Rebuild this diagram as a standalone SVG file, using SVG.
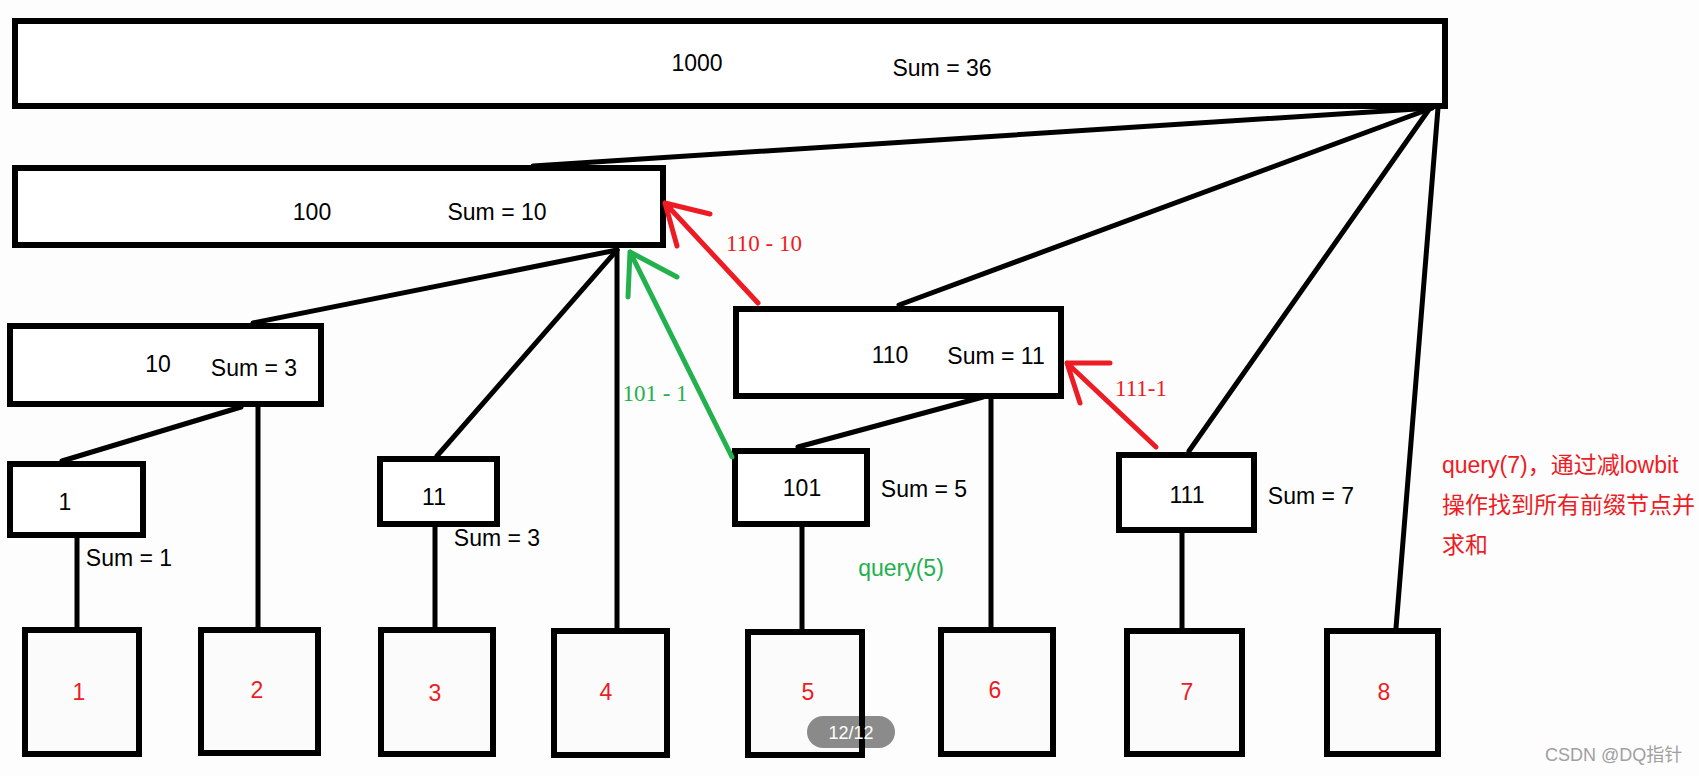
<svg xmlns="http://www.w3.org/2000/svg" width="1699" height="776" viewBox="0 0 1699 776">
<style>
.box{fill:#fff;stroke:#000;stroke-width:6}
.leaf{fill:#fbfbfb;stroke:#000;stroke-width:6}
.ln{stroke:#000;stroke-width:5;fill:none;stroke-linecap:round}
.red{stroke:#ed1c24;stroke-width:5;fill:none;stroke-linecap:round;stroke-linejoin:round}
.grn{stroke:#22b14c;stroke-width:5;fill:none;stroke-linecap:round;stroke-linejoin:round}
.t{font-family:"Liberation Sans",Arial,sans-serif;font-size:23px;fill:#000;text-anchor:middle}
.n{font-family:"Liberation Sans",Arial,sans-serif;font-size:23px;fill:#ed1c24;text-anchor:middle}
.sr{font-family:"Liberation Serif","Times New Roman",serif;font-size:23px;text-anchor:middle}
.cn{font-family:"Liberation Sans","Noto Sans CJK SC",sans-serif;font-size:23px;fill:#ed1c24}
</style>
<rect width="1699" height="776" fill="#fdfdfd"/>
<g id="connectors">
<line class="ln" x1="533" y1="166" x2="1432" y2="108"/>
<line class="ln" x1="1432" y1="108" x2="899" y2="305"/>
<line class="ln" x1="1430" y1="108" x2="1189" y2="451"/>
<line class="ln" x1="1438" y1="108" x2="1396" y2="628"/>
<line class="ln" x1="617" y1="250" x2="253" y2="323"/>
<line class="ln" x1="617" y1="250" x2="437" y2="456"/>
<line class="ln" x1="617" y1="250" x2="617" y2="630"/>
<line class="ln" x1="241" y1="407" x2="62" y2="461"/>
<line class="ln" x1="258" y1="407" x2="258" y2="628"/>
<line class="ln" x1="77" y1="538" x2="77" y2="633"/>
<line class="ln" x1="435" y1="527" x2="435" y2="632"/>
<line class="ln" x1="983" y1="397" x2="798" y2="447"/>
<line class="ln" x1="991" y1="397" x2="991" y2="630"/>
<line class="ln" x1="802" y1="525" x2="802" y2="630"/>
<line class="ln" x1="1182" y1="533" x2="1182" y2="630"/>
</g>
<g id="node-1000"><rect class="box" x="15" y="21" width="1430" height="85"/><text class="t" x="697" y="71">1000</text><text class="t" x="942" y="76">Sum = 36</text></g>
<g id="node-100"><rect class="box" x="15" y="168" width="648" height="77"/><text class="t" x="312" y="220">100</text><text class="t" x="497" y="220">Sum = 10</text></g>
<g id="node-10"><rect class="box" x="10" y="326" width="311" height="78"/><text class="t" x="158" y="372">10</text><text class="t" x="254" y="376">Sum = 3</text></g>
<g id="node-110"><rect class="box" x="736" y="309" width="325" height="87"/><text class="t" x="890" y="363">110</text><text class="t" x="996" y="364">Sum = 11</text></g>
<g id="node-1"><rect class="box" x="10" y="464" width="133" height="71"/><text class="t" x="65" y="510">1</text><text class="t" x="129" y="566">Sum = 1</text></g>
<g id="node-11"><rect class="box" x="380" y="459" width="117" height="65"/><text class="t" x="434" y="505">11</text><text class="t" x="497" y="546">Sum = 3</text></g>
<g id="node-101"><rect class="box" x="735" y="451" width="132" height="73"/><text class="t" x="802" y="496">101</text><text class="t" x="924" y="497">Sum = 5</text></g>
<g id="node-111"><rect class="box" x="1119" y="455" width="135" height="75"/><text class="t" x="1187" y="503">111</text><text class="t" x="1311" y="504">Sum = 7</text></g>
<g id="leaf-1"><rect class="leaf" x="25" y="630" width="114" height="124"/><text class="n" x="79" y="700">1</text></g>
<g id="leaf-2"><rect class="leaf" x="201" y="630" width="117" height="123"/><text class="n" x="257" y="698">2</text></g>
<g id="leaf-3"><rect class="leaf" x="381" y="630" width="112" height="124"/><text class="n" x="435" y="701">3</text></g>
<g id="leaf-4"><rect class="leaf" x="554" y="631" width="113" height="124"/><text class="n" x="606" y="700">4</text></g>
<g id="leaf-5"><rect class="leaf" x="748" y="632" width="114" height="123"/><text class="n" x="808" y="700">5</text></g>
<g id="leaf-6"><rect class="leaf" x="941" y="630" width="112" height="124"/><text class="n" x="995" y="698">6</text></g>
<g id="leaf-7"><rect class="leaf" x="1127" y="631" width="115" height="123"/><text class="n" x="1187" y="700">7</text></g>
<g id="leaf-8"><rect class="leaf" x="1327" y="631" width="111" height="123"/><text class="n" x="1384" y="700">8</text></g>
<g id="arrows">
<path class="red" d="M758 303 L665 203 M710 214 L665 203 L677 246"/>
<path class="red" d="M1156 447 L1067 363 M1110 363 L1067 363 L1080 403"/>
<path class="grn" d="M732 457 L630 252 M628 297 L630 252 L677 277"/>
<text class="sr" x="764" y="251" fill="#ed1c24">110 - 10</text>
<text class="sr" x="655" y="401" fill="#22b14c">101 - 1</text>
<text class="sr" x="1141" y="396" fill="#ed1c24">111-1</text>
<text class="t" x="901" y="576" style="fill:#22b14c">query(5)</text>
</g>
<g id="note">
<text class="cn" x="1442" y="473">query(7)，通过减lowbit</text>
<text class="cn" x="1442" y="513">操作找到所有前缀节点并</text>
<text class="cn" x="1442" y="553">求和</text>
</g>
<g id="overlay">
<rect x="807" y="716" width="88" height="32" rx="16" fill="#000" fill-opacity="0.45"/>
<text x="851" y="739" font-family="'Liberation Sans',Arial,sans-serif" font-size="18" fill="#fff" text-anchor="middle">12/12</text>
<text x="1545" y="761" font-family="'Liberation Sans','Noto Sans CJK SC',sans-serif" font-size="18" fill="#a0a0a0">CSDN @DQ指针</text>
</g>
</svg>
